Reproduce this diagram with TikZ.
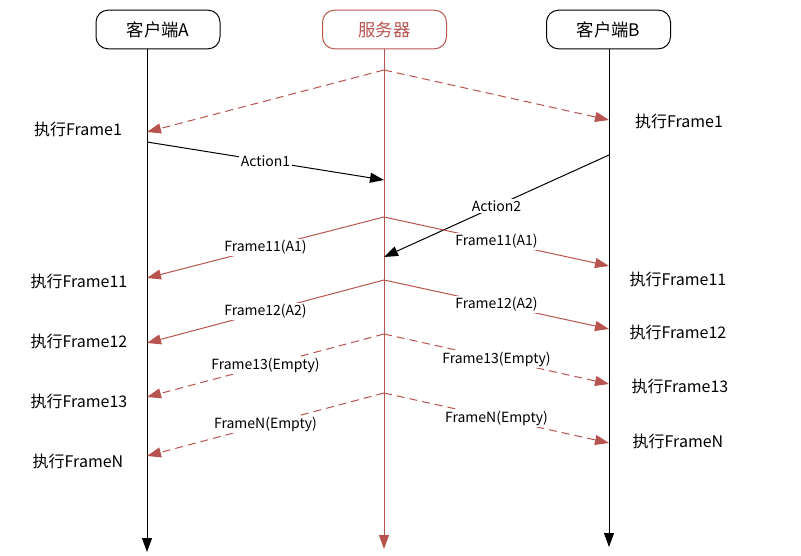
\documentclass[tikz,border=0pt]{standalone}
\usepackage{fontspec}
\setmainfont{Noto Sans CJK SC}
\usetikzlibrary{arrows.meta}
\definecolor{srvred}{HTML}{B85450}
\begin{document}
\begin{tikzpicture}[x=0.75pt,y=-0.75pt,
  line width=0.75pt,
  head node/.style={draw,rounded corners=9pt,minimum width=93pt,minimum height=29pt,inner sep=1pt,font=\fontsize{13}{15}\selectfont},
  exec node/.style={inner sep=1pt,font=\fontsize{12}{14}\selectfont},
  msg label/.style={fill=white,text=black,inner sep=1pt,font=\fontsize{10.5}{12}\selectfont},
  msg/.style={-{Triangle[length=10.5pt,width=7.5pt]}},
  red msg/.style={msg,srvred},
  empty msg/.style={red msg,dash pattern=on 6pt off 3.75pt}]
  \useasboundingbox (0,0) rectangle (801,556);

  \node[head node] (cliA) at (158,29.5) {客户端A};
  \node[head node,srvred] (srv) at (384.5,29.5) {服务器};
  \node[head node] (cliB) at (608.5,29.5) {客户端B};

  \coordinate (aEnd) at (147,552);
  \coordinate (sEnd) at (384,549);
  \coordinate (bEnd) at (609,547);
  \draw[msg] (cliA.south -| aEnd) -- (aEnd);
  \draw[red msg] (srv.south -| sEnd) -- (sEnd);
  \draw[msg] (cliB.south -| bEnd) -- (bEnd);

  \coordinate (s0) at (384,70);
  \coordinate (a0) at (147,132);
  \coordinate (b0) at (609,120);
  \coordinate (a1) at (147,142);
  \coordinate (s1) at (384,180);
  \coordinate (b1) at (609,155);
  \coordinate (s2) at (384,257);
  \coordinate (s3) at (384,217);
  \coordinate (a2) at (147,278);
  \coordinate (b2) at (609,266);
  \coordinate (s4) at (384,280);
  \coordinate (a3) at (147,343);
  \coordinate (b3) at (609,329);
  \coordinate (s5) at (384,334);
  \coordinate (a4) at (147,397);
  \coordinate (b4) at (609,384);
  \coordinate (s6) at (384,393);
  \coordinate (a5) at (147,456);
  \coordinate (b5) at (609,443);

  \node[exec node] (execA1) at (78,129) {执行Frame1};
  \node[exec node] (execB1) at (679,121) {执行Frame1};
  \node[exec node] (execA11) at (79,281) {执行Frame11};
  \node[exec node] (execB11) at (678,279) {执行Frame11};
  \node[exec node] (execA12) at (79,341) {执行Frame12};
  \node[exec node] (execB12) at (678,332) {执行Frame12};
  \node[exec node] (execA13) at (79,401) {执行Frame13};
  \node[exec node] (execB13) at (680,386) {执行Frame13};
  \node[exec node] (execAN) at (78,461) {执行FrameN};
  \node[exec node] (execBN) at (678,441) {执行FrameN};

  \path[every node/.style={msg label}]
   (s0) edge[empty msg] (a0)
   (s0) edge[empty msg] (b0)
   (a1) edge[msg] node{Action1} (s1)
   (b1) edge[msg] node{Action2} (s2)
   (s3) edge[red msg] node{Frame11(A1)} (a2)
   (s3) edge[red msg] node{Frame11(A1)} (b2)
   (s4) edge[red msg] node{Frame12(A2)} (a3)
   (s4) edge[red msg] node{Frame12(A2)} (b3)
   (s5) edge[empty msg] node{Frame13(Empty)} (a4)
   (s5) edge[empty msg] node{Frame13(Empty)} (b4)
   (s6) edge[empty msg] node{FrameN(Empty)} (a5)
   (s6) edge[empty msg] node{FrameN(Empty)} (b5);
\end{tikzpicture}
\end{document}
